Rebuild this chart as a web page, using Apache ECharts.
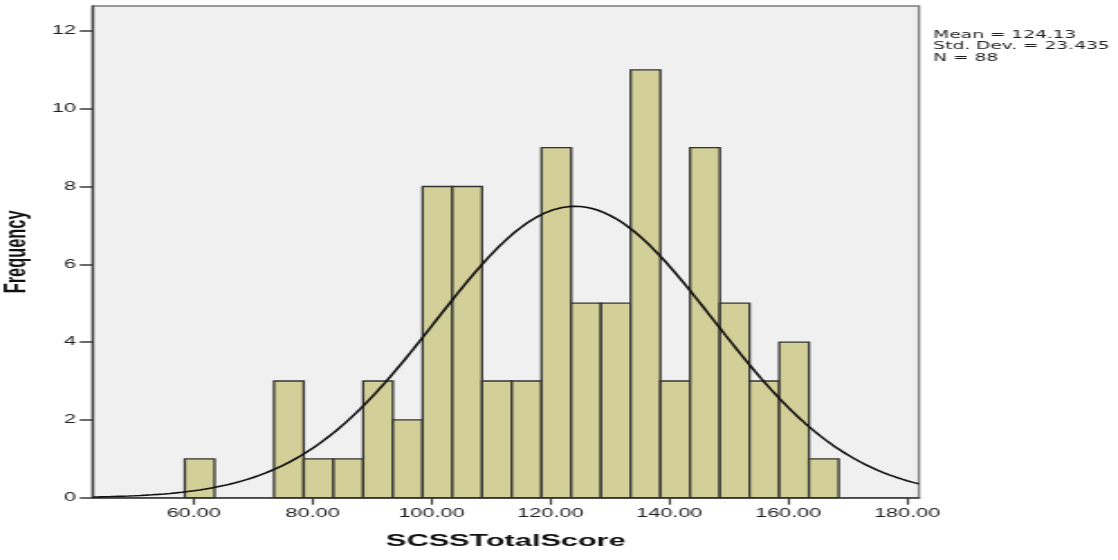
<!DOCTYPE html>
<html>
<head>
<meta charset="utf-8">
<script src="https://cdn.jsdelivr.net/npm/echarts@6/dist/echarts.min.js"></script>
<style>
  html, body { margin: 0; padding: 0; background: #ffffff; overflow: hidden; }
  #wrap { width: 1118px; height: 560px; overflow: hidden; }
  /* chart is laid out at 620px wide and stretched horizontally to the window */
  #chart { width: 620px; height: 560px; transform-origin: 0 0; transform: scaleX(1.80323); }
</style>
</head>
<body>
<div id="wrap"><div id="chart"></div></div>
<script>
// Histogram of SCSS total scores (bin width 5) with fitted normal curve
const binCenters = [61, 66, 71, 76, 81, 86, 91, 96, 101, 106, 111, 116, 121, 126, 131, 136, 141, 146, 151, 156, 161, 166];
const frequencies = [1, 0, 0, 3, 1, 1, 3, 2, 8, 8, 3, 3, 9, 5, 5, 11, 3, 9, 5, 3, 4, 1];
const BIN_WIDTH = 5;
const xTickValues = [60, 80, 100, 120, 140, 160, 180];
const yTickValues = [0, 2, 4, 6, 8, 10, 12];

// summary statistics shown beside the plot
const MEAN = 124.13;
const STD_DEV = 23.435;
const N = 88;
const statsLines = ['Mean = 124.13', 'Std. Dev. = 23.435', 'N = 88'];

const X_MIN = 43, X_MAX = 182, Y_MAX = 12.64;

// normal density scaled to counts per bin
const curve = [];
for (let x = X_MIN; x <= X_MAX + 1e-9; x += 0.5) {
  const z = (x - MEAN) / STD_DEV;
  curve.push([x, N * BIN_WIDTH * Math.exp(-0.5 * z * z) / (STD_DEV * Math.sqrt(2 * Math.PI))]);
}

const chart = echarts.init(document.getElementById('chart'), null, { width: 620, height: 560 });
const textColor = '#1e1e1e';
const axisColor = '#3a3a3a';

chart.setOption({
  animation: false,
  backgroundColor: '#ffffff',
  grid: {
    left: 51.4, right: 110.4, top: 6, bottom: 62.3,
    outerBoundsMode: 'none', containLabel: false,
    show: true, backgroundColor: '#f0f0f0', borderColor: '#7c7c7c', borderWidth: 1.4
  },
  xAxis: {
    type: 'value', min: X_MIN, max: X_MAX,
    name: 'SCSSTotalScore', nameLocation: 'middle', nameGap: 35,
    nameTextStyle: { fontFamily: 'Liberation Sans', fontWeight: 'bold', fontSize: 17, color: '#111' },
    splitLine: { show: false },
    axisLine: { show: true, onZero: false, lineStyle: { color: axisColor, width: 1.5 } },
    axisTick: { show: true, customValues: xTickValues, length: 7, lineStyle: { color: axisColor, width: 1.2 } },
    axisLabel: {
      customValues: xTickValues, margin: 10,
      formatter: v => v.toFixed(2),
      fontFamily: 'Liberation Sans', fontSize: 12, color: textColor
    }
  },
  yAxis: {
    type: 'value', min: 0, max: Y_MAX,
    name: 'Frequency', nameLocation: 'middle', nameGap: 31.3,
    nameTextStyle: { fontFamily: 'Liberation Sans', fontWeight: 'bold', fontSize: 16.4, color: '#111' },
    splitLine: { show: false },
    axisLine: { show: true, lineStyle: { color: axisColor, width: 1.3 } },
    axisTick: { show: true, customValues: yTickValues, length: 7.2, lineStyle: { color: axisColor, width: 1.5 } },
    axisLabel: {
      customValues: yTickValues, margin: 9.3,
      fontFamily: 'Liberation Sans', fontSize: 12, color: textColor
    }
  },
  graphic: [{
    type: 'text', left: 517.6, top: 29.5,
    style: {
      text: statsLines.join('\n'),
      font: '10.3px "DejaVu Sans"', fill: textColor, lineHeight: 11.5
    }
  }],
  series: [
    {
      type: 'custom',
      data: binCenters.map((c, i) => [c, frequencies[i]]),
      renderItem: function (params, api) {
        const c = api.value(0), f = api.value(1);
        if (!f) return null;
        const p0 = api.coord([c - BIN_WIDTH / 2, f]);
        const p1 = api.coord([c + BIN_WIDTH / 2, 0]);
        return {
          type: 'rect',
          shape: { x: p0[0], y: p0[1], width: p1[0] - p0[0], height: p1[1] - p0[1] },
          style: { fill: '#d3cf98', stroke: '#333333', lineWidth: 1.3 }
        };
      },
      z: 2
    },
    {
      type: 'line',
      data: curve,
      showSymbol: false,
      smooth: false,
      lineStyle: { color: '#111111', width: 1.6 },
      clip: true,
      z: 3
    }
  ]
});
</script>
</body>
</html>
